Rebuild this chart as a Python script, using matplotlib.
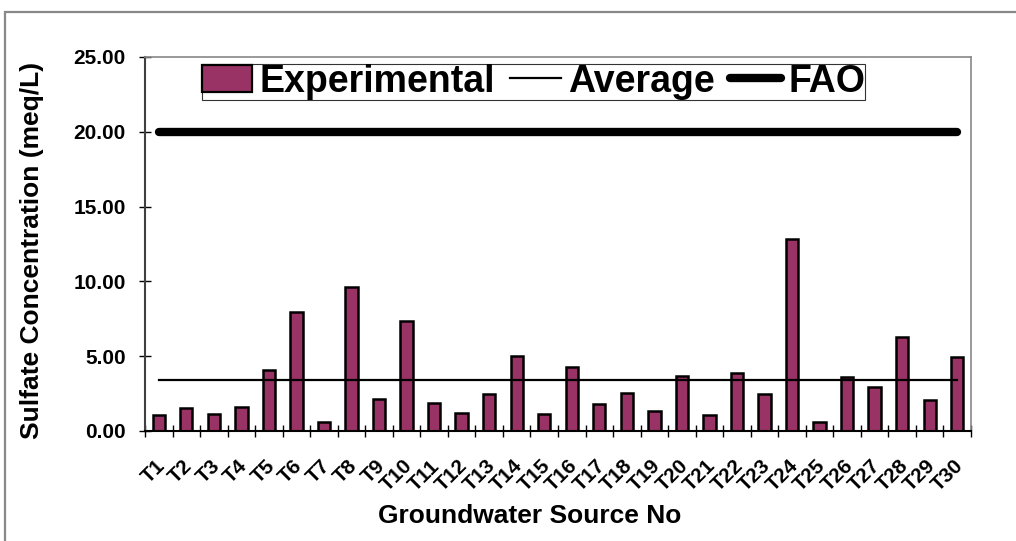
import numpy as np
import matplotlib.pyplot as plt
import matplotlib.transforms as mtransforms
from matplotlib.patches import Patch, Rectangle
from matplotlib.lines import Line2D

plt.rcParams['font.family'] = ['Liberation Sans', 'DejaVu Sans']
plt.rcParams['font.weight'] = 'bold'

# Sulfate concentration per groundwater source (meq/L)
sources = [f"T{i}" for i in range(1, 31)]
sulfate = [1.07, 1.56, 1.14, 1.60, 4.10, 7.97, 0.62, 9.60, 2.12, 7.35,
           1.85, 1.18, 2.45, 4.99, 1.14, 4.30, 1.83, 2.56, 1.36, 3.70,
           1.09, 3.88, 2.49, 12.85, 0.58, 3.63, 2.94, 6.28, 2.05, 4.93]
fao_limit = 20.0
average = np.mean(sulfate)
y_ticks = [0, 5, 10, 15, 20, 25]

bar_color = "#993366"

fig = plt.figure(figsize=(10.16, 5.41), dpi=100)
ax = fig.add_axes([145 / 1016, 1 - 431 / 541, 826 / 1016, 374 / 541])

x = np.arange(len(sources))
ax.bar(x, sulfate, width=0.45, color=bar_color, edgecolor="black", linewidth=1.8, zorder=2)
ax.plot([x[0], x[-1]], [average, average], color="black", linewidth=1.6, zorder=3)
ax.plot([x[0], x[-1]], [fao_limit, fao_limit], color="black", linewidth=6,
        solid_capstyle="round", zorder=3)

ax.set_xlim(-0.5, len(sources) - 0.5)
ax.set_ylim(0, 25)
ax.set_yticks(y_ticks)
ax.set_yticklabels([f"{v:.2f}" for v in y_ticks], fontsize=15, fontweight="bold")
ax.tick_params(axis="y", direction="inout", length=8, width=1, pad=10)

ax.set_xticks(x)
ax.set_xticklabels(sources, fontsize=15, fontweight="bold", rotation=45,
                   ha="right", va="center", rotation_mode="anchor")
ax.tick_params(axis="x", which="major", length=0, pad=23)
shift = mtransforms.ScaledTranslation(3 / 100, 0, fig.dpi_scale_trans)
for lbl in ax.get_xticklabels():
    lbl.set_transform(lbl.get_transform() + shift)
ax.set_xticks(np.arange(-0.5, len(sources)), minor=True)
ax.tick_params(axis="x", which="minor", direction="inout", length=9, width=1)

ax.spines["left"].set_color("#404040")
ax.spines["left"].set_linewidth(1.5)
ax.spines["bottom"].set_color("black")
ax.spines["bottom"].set_linewidth(1.5)
for s in ["top", "right"]:
    ax.spines[s].set_color("#888888")
    ax.spines[s].set_linewidth(1.2)

fig.text(32 / 1016, 1 - 250 / 541, "Sulfate Concentration (meq/L)", rotation=90,
         ha="center", va="center", fontsize=19, fontweight="bold")
fig.text(530 / 1016, 1 - 516 / 541, "Groundwater Source No",
         ha="center", va="center", fontsize=19, fontweight="bold")

handles = [
    Patch(facecolor=bar_color, edgecolor="black", linewidth=1.6),
    Line2D([], [], color="black", linewidth=1.6),
    Line2D([], [], color="black", linewidth=6, solid_capstyle="round"),
]
leg = fig.legend(handles, ["Experimental", "Average", "FAO"], ncol=3,
                 loc="center", bbox_to_anchor=(533.5 / 1016, 1 - 81.5 / 541),
                 prop={"size": 27, "weight": "bold"}, frameon=True, fancybox=False,
                 edgecolor="black", borderpad=0.0, handlelength=1.35,
                 handletextpad=0.2, columnspacing=0.4, borderaxespad=0)
leg.get_frame().set_linewidth(0.8)

# outer chart border (cut at right and bottom edges)
fig.patches.append(Rectangle((5 / 1016, -0.1), 1.2, 1.1 - 12 / 541, transform=fig.transFigure,
                             fill=False, edgecolor="#888888", linewidth=1.6))

fig.savefig("out.png", dpi=100)
